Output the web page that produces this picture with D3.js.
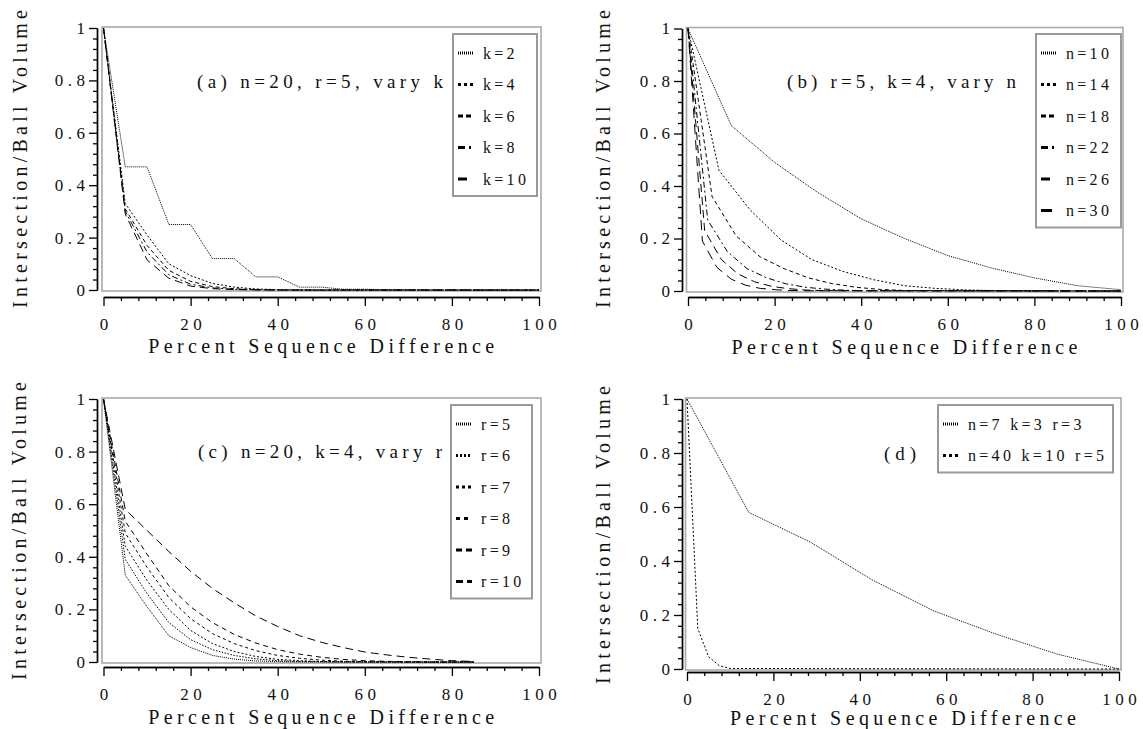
<!DOCTYPE html>
<html>
<head>
<meta charset="utf-8">
<script src="https://cdn.jsdelivr.net/npm/d3@7"></script>
<style>
  body { margin: 0; background: #fff; }
  svg { font-family: 'Liberation Serif', 'Times New Roman', serif; }
</style>
</head>
<body>
<script>
// ---- data ----

// (a) n=20, r=5, vary k  (x steps of 5%)
const pctA = [0, 5, 10, 15, 20, 25, 30, 35, 40, 45, 50, 55, 60, 65, 70, 75, 80, 85, 90, 95, 100]
const k2 = [1, .47, .47, .25, .25, .12, .12, .05, .05, .011, .011, .003, .003, .001, .001, 0, 0, 0, 0, 0, 0]
const k4 = [1, .33, .21, .10, .055, .025, .011, .004, .0015, .0005, 0, 0, 0, 0, 0, 0, 0, 0, 0, 0, 0]
const k6 = [1, .31, .17, .075, .033, .013, .005, .0015, .0005, 0, 0, 0, 0, 0, 0, 0, 0, 0, 0, 0, 0]
const k8 = [1, .30, .145, .058, .022, .008, .0025, .0008, 0, 0, 0, 0, 0, 0, 0, 0, 0, 0, 0, 0, 0]
const k10 = [1, .29, .115, .045, .015, .005, .0015, .0005, 0, 0, 0, 0, 0, 0, 0, 0, 0, 0, 0, 0, 0]

// (b) r=5, k=4, vary n
const pctN10 = [0, 10, 20, 30, 40, 50, 60, 70, 80, 90, 100]
const n10 = [1, .63, .49, .375, .275, .20, .135, .088, .05, .02, .005]
const pctN14 = [0, 7.14, 14.29, 21.43, 28.57, 35.71, 42.86, 50, 57.14, 64.29, 71.43, 100]
const n14 = [1, .46, .31, .195, .12, .075, .043, .02, .01, .004, .0015, 0]
const pctN18 = [0, 5.56, 11.11, 16.67, 22.22, 27.78, 33.33, 38.89, 44.44, 50, 100]
const n18 = [1, .36, .21, .13, .085, .05, .028, .014, .006, .002, 0]
const pctN22 = [0, 4.55, 9.09, 13.64, 18.18, 22.73, 27.27, 31.82, 36.36, 40.91, 100]
const n22 = [1, .27, .15, .085, .05, .027, .014, .007, .003, .001, 0]
const pctN26 = [0, 3.85, 7.69, 11.54, 15.38, 19.23, 23.08, 26.92, 30.77, 100]
const n26 = [1, .23, .12, .065, .035, .018, .009, .004, .0015, 0]
const pctN30 = [0, 3.33, 6.67, 10, 13.33, 16.67, 20, 23.33, 26.67, 100]
const n30 = [1, .19, .09, .045, .022, .01, .005, .002, .001, 0]

// (c) n=20, k=4, vary r
const pctC = [0, 5, 10, 15, 20, 25, 30, 35, 40, 45, 50, 55, 60, 65, 70, 75, 80, 85]
const r5 = [1, .33, .21, .10, .055, .025, .011, .004, .0015, .0005, 0, 0, 0, 0, 0, 0, 0, 0]
const r6 = [1, .39, .26, .15, .085, .047, .025, .012, .005, .002, .001, 0, 0, 0, 0, 0, 0, 0]
const r7 = [1, .44, .31, .20, .12, .07, .04, .021, .01, .005, .002, .001, 0, 0, 0, 0, 0, 0]
const r8 = [1, .49, .36, .245, .165, .108, .07, .043, .025, .014, .007, .003, .0015, .0005, 0, 0, 0, 0]
const r9 = [1, .535, .41, .29, .21, .15, .105, .072, .047, .03, .018, .01, .005, .0025, .001, 0, 0, 0]
const r10 = [1, .58, .50, .42, .345, .28, .225, .175, .135, .10, .075, .055, .038, .027, .018, .011, .005, .002]

// (d) two extreme cases
const pctD1 = [0, 14.29, 28.57, 42.86, 57.14, 71.43, 85.71, 100]
const d1 = [1, .58, .47, .33, .215, .13, .055, 0]
const pctD2 = [0, 2.5, 5, 7.5, 10, 100]
const d2 = [1, .15, .045, .012, .002, 0]

const labelsA = ['k=2', 'k=4', 'k=6', 'k=8', 'k=10']
const labelsB = ['n=10', 'n=14', 'n=18', 'n=22', 'n=26', 'n=30']
const labelsC = ['r=5', 'r=6', 'r=7', 'r=8', 'r=9', 'r=10']
const labelsD = ['n=7 k=3 r=3', 'n=40 k=10 r=5']

const yMajor = [0, .2, .4, .6, .8, 1]
const yMinor = [.04, .08, .12, .16, .24, .28, .32, .36, .44, .48, .52, .56, .64, .68, .72, .76, .84, .88, .92, .96]
const xMajor = [0, 20, 40, 60, 80, 100]
const xMinor = [4, 8, 12, 16, 24, 28, 32, 36, 44, 48, 52, 56, 64, 68, 72, 76, 84, 88, 92, 96]

// ---- line styles (curve dash, legend sample dash) ----
const dashFine = { line: '1,1', key: '1,1' }
const dashDot = { line: '2,2', key: '3,3' }
const dashShort = { line: '4,3', key: '5,3' }
const dashDotDash = { line: '6,3,2,3', key: '7,4,2,20' }
const dashLong = { line: '8,5', key: '9,20' }
const dashLonger = { line: '10,6', key: '11,20' }

const panels = [
  {
    x0: 103.5, x1: 539, y0: 290, y1: 28, ax: 97, ay: 297,
    title: { text: '(a) n=20, r=5, vary k', x: 197, y: 88, len: 246 },
    legend: { x: 453, y: 34, w: 84 }, labels: labelsA,
    series: [[pctA, k2], [pctA, k4], [pctA, k6], [pctA, k8], [pctA, k10]],
    styles: [dashFine, dashDot, dashShort, dashDotDash, dashLong],
    ylab: { x: 27, cy: 159 }, xlabY: 353
  },
  {
    x0: 688, x1: 1121, y0: 291, y1: 28.5, ax: 682, ay: 297,
    title: { text: '(b) r=5, k=4, vary n', x: 787, y: 88, len: 229 },
    legend: { x: 1036, y: 34, w: 85 }, labels: labelsB,
    series: [[pctN10, n10], [pctN14, n14], [pctN18, n18], [pctN22, n22], [pctN26, n26], [pctN30, n30]],
    styles: [dashFine, dashDot, dashShort, dashDotDash, dashLong, dashLonger],
    ylab: { x: 610, cy: 159 }, xlabY: 354
  },
  {
    x0: 103.5, x1: 539, y0: 662, y1: 399, ax: 97, ay: 667,
    title: { text: '(c) n=20, k=4, vary r', x: 198, y: 458, len: 244 },
    legend: { x: 451, y: 405, w: 81 }, labels: labelsC,
    series: [[pctC, r5], [pctC, r6], [pctC, r7], [pctC, r8], [pctC, r9], [pctC, r10]],
    styles: [dashFine, { line: '1.5,1.5', key: '2,2' }, dashDot, { line: '3,3', key: '4,4' },
      { line: '5,4', key: '6,4' }, { line: '8,5', key: '7,4' }],
    ylab: { x: 26, cy: 531 }, xlabY: 724
  },
  {
    x0: 687, x1: 1119, y0: 669, y1: 399, ax: 682, ay: 672,
    title: { text: '(d)', x: 884, y: 460, len: 32 },
    legend: { x: 938, y: 405, w: 175 }, labels: labelsD,
    series: [[pctD1, d1], [pctD2, d2]],
    styles: [dashFine, dashDot],
    ylab: { x: 610, cy: 535 }, xlabY: 725
  }
]

const svg = d3.select('body').append('svg')
  .attr('width', 1143)
  .attr('height', 729)

const TICK_FONT = 17
const TICK_SPACING = 4.5

function drawPanel(p) {
  const x = d3.scaleLinear().domain([0, 100]).range([p.x0, p.x1])
  const y = d3.scaleLinear().domain([0, 1]).range([p.y0, p.y1])

  // grey frame round the plot area
  svg.append('rect')
    .attr('x', p.x0 - 1.5)
    .attr('y', p.y1 - 1)
    .attr('width', p.x1 - p.x0 + 3.5)
    .attr('height', p.y0 - p.y1 + 2)
    .attr('fill', 'none')
    .attr('stroke', '#a9a9a9')
    .attr('stroke-width', 1.6)

  // y axis: minor then major ticks
  svg.append('g')
    .attr('transform', `translate(${p.ax},0)`)
    .call(d3.axisLeft(y).tickValues(yMinor).tickSize(4).tickSizeOuter(0).tickFormat(''))
  const gy = svg.append('g')
    .attr('transform', `translate(${p.ax},0)`)
    .call(d3.axisLeft(y).tickValues(yMajor).tickSize(8).tickSizeOuter(0).tickFormat(d3.format('~g')))
  gy.attr('font-family', null).attr('font-size', null)
  gy.selectAll('text')
    .attr('x', -12 + TICK_SPACING)
    .style('font-size', TICK_FONT + 'px')
    .style('letter-spacing', TICK_SPACING + 'px')
    .attr('fill', '#111')

  // x axis: minor then major ticks
  svg.append('g')
    .attr('transform', `translate(0,${p.ay})`)
    .call(d3.axisBottom(x).tickValues(xMinor).tickSize(4).tickSizeOuter(0).tickFormat(''))
  const gx = svg.append('g')
    .attr('transform', `translate(0,${p.ay})`)
    .call(d3.axisBottom(x).tickValues(xMajor).tickSize(9).tickSizeOuter(0).tickFormat(d3.format('d')))
  gx.attr('font-family', null).attr('font-size', null)
  gx.selectAll('text')
    .attr('y', 21)
    .attr('dx', TICK_SPACING / 2)
    .style('font-size', TICK_FONT + 'px')
    .style('letter-spacing', TICK_SPACING + 'px')
    .attr('fill', '#111')

  svg.selectAll('.domain').attr('stroke-width', 1.4)
  svg.selectAll('.tick line').attr('stroke-width', 1.3)

  // curves
  const line = d3.line().x(d => x(d[0])).y(d => y(d[1]))
  p.series.forEach((s, i) => {
    const pts = s[0].map((v, j) => [v, s[1][j]])
    svg.append('path')
      .datum(pts)
      .attr('d', line)
      .attr('fill', 'none')
      .attr('stroke', '#000')
      .attr('stroke-width', 1)
      .attr('stroke-dasharray', p.styles[i].line)
  })

  // panel caption
  svg.append('text')
    .attr('x', p.title.x)
    .attr('y', p.title.y)
    .attr('textLength', p.title.len)
    .attr('lengthAdjust', 'spacing')
    .style('font-size', '19px')
    .attr('fill', '#111')
    .text(p.title.text)

  // legend box
  const n = p.labels.length
  const lg = svg.append('g').attr('transform', `translate(${p.legend.x},${p.legend.y})`)
  lg.append('rect')
    .attr('width', p.legend.w)
    .attr('height', 19 + (n - 1) * 31.5 + 17)
    .attr('fill', '#fff')
    .attr('stroke', '#9a9a9a')
    .attr('stroke-width', 2)
  p.labels.forEach((lab, i) => {
    const ry = 19 + i * 31.5
    lg.append('line')
      .attr('x1', 5).attr('x2', 21)
      .attr('y1', ry).attr('y2', ry)
      .attr('stroke', '#000')
      .attr('stroke-width', 3)
      .attr('stroke-dasharray', p.styles[i].key)
    lg.append('text')
      .attr('x', 30)
      .attr('y', ry)
      .attr('dy', '0.35em')
      .style('font-size', '16px')
      .style('letter-spacing', '3.3px')
      .attr('fill', '#111')
      .text(lab)
  })

  // axis titles
  svg.append('text')
    .attr('transform', `translate(${p.ylab.x},${p.ylab.cy}) rotate(-90)`)
    .attr('text-anchor', 'middle')
    .attr('textLength', 298)
    .attr('lengthAdjust', 'spacing')
    .style('font-size', '20px')
    .attr('fill', '#111')
    .text('Intersection/Ball Volume')

  svg.append('text')
    .attr('x', (p.x0 + p.x1) / 2)
    .attr('y', p.xlabY)
    .attr('text-anchor', 'middle')
    .attr('textLength', 346)
    .attr('lengthAdjust', 'spacing')
    .style('font-size', '20px')
    .attr('fill', '#111')
    .text('Percent Sequence Difference')
}

panels.forEach(drawPanel)
</script>
</body>
</html>
